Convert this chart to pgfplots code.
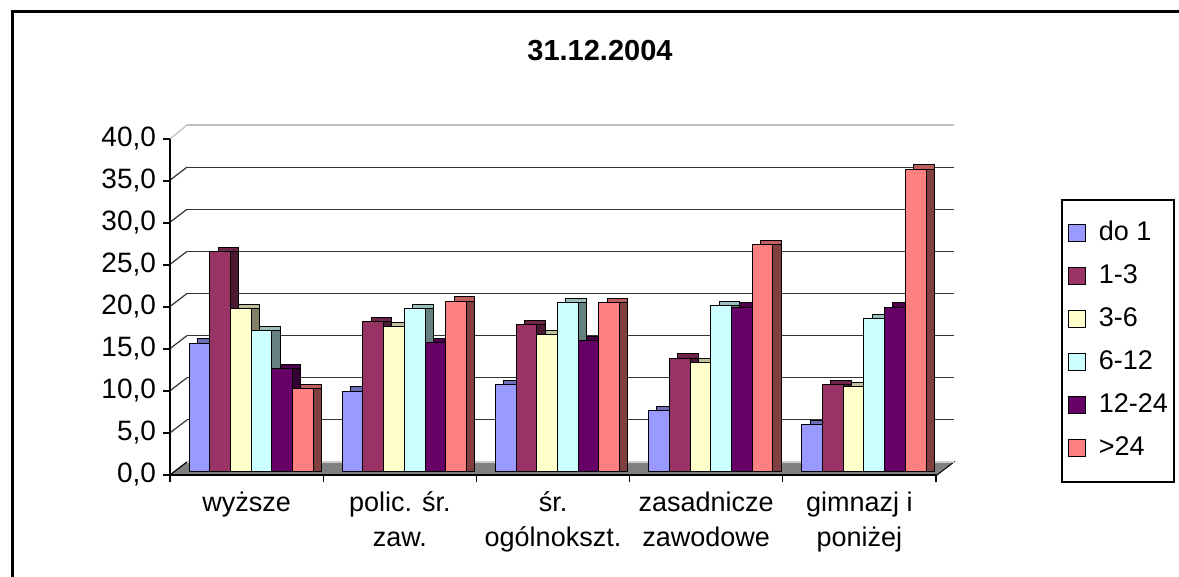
\documentclass[border=0pt]{standalone}
\usepackage{fontspec}
\setmainfont{Liberation Sans}
\usepackage{pgfplots}
\usepackage{pgfplotstable}
\pgfplotsset{compat=1.18}
\newlength\px \setlength\px{0.5bp}
\definecolor{c1}{HTML}{9999FF}
\definecolor{c2}{HTML}{993366}
\definecolor{c3}{HTML}{FFFFCC}
\definecolor{c4}{HTML}{CCFFFF}
\definecolor{c5}{HTML}{660066}
\definecolor{c6}{HTML}{FF8080}
\pgfplotstableread{
x d1 d2 d3 d4 d5 d6
0 15.3 26.2 19.4 16.8 12.3 9.9
1 9.6 17.9 17.3 19.4 15.4 20.3
2 10.4 17.5 16.3 20.1 15.6 20.1
3 7.3 13.5 13.0 19.8 19.6 27.0
4 5.6 10.4 10.1 18.2 19.6 36.0
}\datatable
\pgfplotsset{
  wall/.style={scale only axis, width=766\px, height=336\px, xmin=-0.5, xmax=4.5, ymin=0, ymax=40, clip=false},
  barsaxis/.style={wall, hide axis, ybar=0pt, bar width=20.7\px},
}
\begin{document}
\begin{tikzpicture}
\useasboundingbox (0,0) rectangle (1179\px,577\px);
\fill[white] (0,0) rectangle (1179\px,577\px);
\draw[line width=3\px] (12\px,-5\px) -- (12\px,565\px) -- (1190\px,565\px);
\node[font=\fontsize{14.5bp}{17bp}\selectfont\bfseries] at (600\px,526\px) {31.12.2004};

% back wall with grid, floor and left-wall lines
\begin{axis}[wall, width=767\px, height=337\px, at={(187\px,115\px)}, anchor=south west,
  axis line style={draw=none}, major tick length=0pt, xtick=\empty,
  ytick={0,5,...,35}, yticklabels={},
  ymajorgrids, major grid style={black!80, line width=1.2\px}]
\draw[black!25,line width=1.2\px] (axis cs:-0.5,40) -- (axis cs:4.5,40);
\pgfplotsinvokeforeach{0,5,10,15,20,25,30,35}{\draw[black!80,line width=1.2\px] (axis cs:-0.5,#1) -- ++(-17\px,-13\px);}
\draw[black!25,line width=1.2\px] (axis cs:-0.5,40) -- ++(-17\px,-14\px);
\filldraw[fill=black!50, draw=black, line width=1\px] (axis cs:-0.5,0) -- (axis cs:4.5,0) -- ++(-17\px,-13\px) -- ([shift={(-17\px,-13\px)}]axis cs:-0.5,0) -- cycle;
\draw[black!20, line width=1.2\px] (axis cs:-0.5,0) -- (axis cs:4.5,0);
\end{axis}

% top faces
\begin{axis}[barsaxis, at={(182.8\px,109.6\px)}, anchor=south west]
\addplot[fill=c1!72!black, draw=black, line width=1\px] table[x=x,y=d1]{\datatable};
\addplot[fill=c2!72!black, draw=black, line width=1\px] table[x=x,y=d2]{\datatable};
\addplot[fill=c3!75!black, draw=black, line width=1\px] table[x=x,y=d3]{\datatable};
\addplot[fill=c4!75!black, draw=black, line width=1\px] table[x=x,y=d4]{\datatable};
\addplot[fill=c5!75!black, draw=black, line width=1\px] table[x=x,y=d5]{\datatable};
\addplot[fill=c6!75!black, draw=black, line width=1\px] table[x=x,y=d6]{\datatable};
\end{axis}

% side faces
\begin{axis}[barsaxis, bar width=8.3\px, at={(174.5\px,105.3\px)}, anchor=south west]
\addplot[fill=c1!50!black, draw=black, line width=1\px, bar shift=-37.25\px] table[x=x,y=d1]{\datatable};
\addplot[fill=c2!50!black, draw=black, line width=1\px, bar shift=-16.55\px] table[x=x,y=d2]{\datatable};
\addplot[fill=c3!50!black, draw=black, line width=1\px, bar shift=4.15\px] table[x=x,y=d3]{\datatable};
\addplot[fill=c4!50!black, draw=black, line width=1\px, bar shift=24.85\px] table[x=x,y=d4]{\datatable};
\addplot[fill=c5!50!black, draw=black, line width=1\px, bar shift=45.55\px] table[x=x,y=d5]{\datatable};
\addplot[fill=c6!50!black, draw=black, line width=1\px, bar shift=66.25\px] table[x=x,y=d6]{\datatable};
\end{axis}

% front faces + legend
\begin{axis}[barsaxis, at={(174.5\px,105.3\px)}, anchor=south west,
  legend style={at={(axis description cs:1.1573,0.8116)}, anchor=north west,
    draw=black, line width=1.5\px, fill=white,
    font=\fontsize{13.5bp}{16bp}\selectfont,
    inner xsep=6\px, inner ysep=21\px, row sep=18\px,
    nodes={inner sep=0pt, text height=20\px, text depth=5\px},
    /tikz/every odd column/.append style={column sep=13\px}},
  legend cell align=left,
  legend image code/.code={\draw[#1, line width=1\px] (0\px,-8.5\px) rectangle (17\px,8.5\px);}]
\addplot[fill=c1, draw=black, line width=1\px] table[x=x,y=d1]{\datatable};
\addplot[fill=c2, draw=black, line width=1\px] table[x=x,y=d2]{\datatable};
\addplot[fill=c3, draw=black, line width=1\px] table[x=x,y=d3]{\datatable};
\addplot[fill=c4, draw=black, line width=1\px] table[x=x,y=d4]{\datatable};
\addplot[fill=c5, draw=black, line width=1\px] table[x=x,y=d5]{\datatable};
\addplot[fill=c6, draw=black, line width=1\px] table[x=x,y=d6]{\datatable};
\legend{do 1, 1-3, 3-6, 6-12, 12-24, >24}
\end{axis}

% front axis
\begin{axis}[wall, at={(170\px,102\px)}, anchor=south west,
  axis x line*=bottom, axis y line*=left,
  x axis line style={line width=2.5\px}, y axis line style={line width=1.2\px},
  tick style={black, line width=1.2\px}, major tick length=7\px, tick align=outside,
  ytick={0,5,...,40},
  xtick={-0.5,0.5,1.5,2.5,3.5,4.5}, x tick label as interval,
  xticklabels={wyższe, {polic. śr.\\zaw.}, {śr.\\ogólnokszt.}, {zasadnicze\\zawodowe}, {gimnazj i\\poniżej}},
  xticklabel style={font=\fontsize{13.5bp}{17.5bp}\selectfont, align=center, yshift=-3\px},
  yticklabel style={font=\fontsize{14bp}{16bp}\selectfont,
    /pgf/number format/fixed, /pgf/number format/fixed zerofill,
    /pgf/number format/precision=1, /pgf/number format/use comma,
    /pgf/number format/assume math mode=true}]
\end{axis}
\end{tikzpicture}
\end{document}
